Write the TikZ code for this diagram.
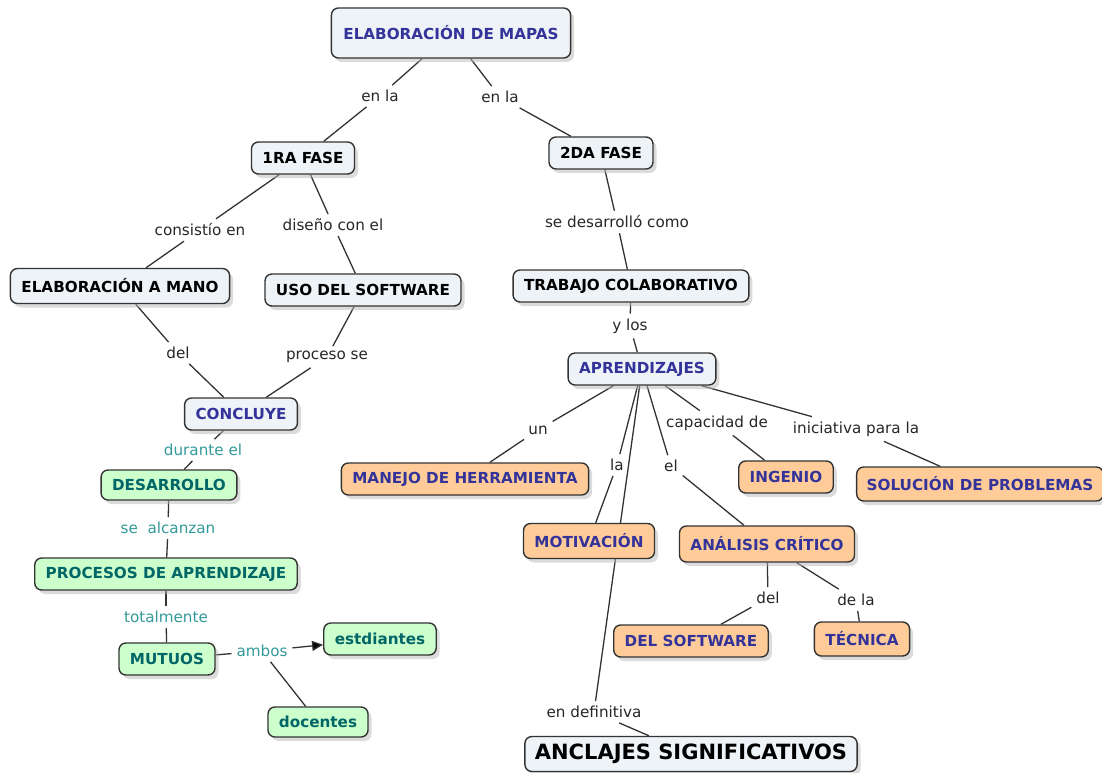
\documentclass[tikz,border=0pt]{standalone}
\usepackage{fontspec}
\setmainfont{DejaVu Sans}
\usetikzlibrary{shadows,backgrounds,arrows.meta}

\definecolor{mapblue}{HTML}{333399}
\definecolor{mapfill}{HTML}{EEF3F7}
\definecolor{mint}{HTML}{CCFFCC}
\definecolor{peach}{HTML}{FFCC99}
\definecolor{tealtxt}{HTML}{006666}
\definecolor{teallnk}{HTML}{339999}
\definecolor{edgegray}{HTML}{333333}

\tikzset{
  concept/.style={draw=edgegray, line width=1.4pt, rounded corners=7pt, fill=mapfill,
    font=\bfseries\fontsize{15.2}{17}\selectfont, inner xsep=11pt, minimum height=32pt,
    drop shadow={shadow xshift=3.5pt, shadow yshift=-4pt, fill=black!28}},
  bluecon/.style={concept, text=mapblue},
  greencon/.style={concept, fill=mint, text=tealtxt},
  orangecon/.style={concept, fill=peach, text=mapblue},
  link/.style={font=\fontsize{15.2}{17}\selectfont, text=black!85, inner sep=2pt, outer sep=3pt},
  greenlink/.style={link, text=teallnk},
  line/.style={draw=edgegray, line width=1.3pt}
}

\begin{document}
\begin{tikzpicture}[x=1pt, y=-1pt]
    \useasboundingbox (0,0) rectangle (1102,773);

    \node[bluecon, minimum height=50pt, inner xsep=12pt] (mapas) at (451,33) {ELABORACIÓN DE MAPAS};
    \node[concept] (fase1) at (303,158) {1RA FASE};
    \node[concept] (fase2) at (601,153) {2DA FASE};
    \node[concept, minimum height=35pt] (mano) at (120,286) {ELABORACIÓN A MANO};
    \node[concept] (uso) at (363,290) {USO DEL SOFTWARE};
    \node[concept] (trabajo) at (631,286) {TRABAJO COLABORATIVO};
    \node[bluecon] (aprend) at (642,369) {APRENDIZAJES};
    \node[bluecon] (concl) at (241,414) {CONCLUYE};
    \node[greencon, minimum height=30pt] (desarr) at (169,485) {DESARROLLO};
    \node[greencon] (procesos) at (166,574) {PROCESOS DE APRENDIZAJE};
    \node[greencon] (mutuos) at (167,659) {MUTUOS};
    \node[greencon] (estud) at (380,639) {estdiantes};
    \node[greencon, minimum height=30pt] (docen) at (318,722) {docentes};
    \node[orangecon] (manejo) at (465,479) {MANEJO DE HERRAMIENTA};
    \node[orangecon] (ingenio) at (786,477) {INGENIO};
    \node[orangecon, minimum height=34pt, inner xsep=10pt] (solucion) at (980,484) {SOLUCIÓN DE PROBLEMAS};
    \node[orangecon, minimum height=35pt] (motiv) at (589,541) {MOTIVACIÓN};
    \node[orangecon, minimum height=36pt] (analisis) at (767,544) {ANÁLISIS CRÍTICO};
    \node[orangecon] (delsoft) at (691,641) {DEL SOFTWARE};
    \node[orangecon, minimum height=34pt] (tecnica) at (862,639) {TÉCNICA};
    \node[concept, font=\bfseries\fontsize{21}{23}\selectfont, minimum height=35pt, inner xsep=10pt] (anclajes) at (691,754) {ANCLAJES SIGNIFICATIVOS};

    \node[link] (enlaA) at (380,96) {en la};
    \node[link] (enlaB) at (500,97) {en la};
    \node[link] (consist) at (200,230) {consistío en};
    \node[link] (diseno) at (333,225) {diseño con el};
    \node[link] (sedes) at (617,222) {se desarrolló como};
    \node[link] (delA) at (178,353) {del};
    \node[link] (proceso) at (327,357) {proceso se};
    \node[link] (ylos) at (630,326) {y los};
    \node[greenlink] (durante) at (203,450) {durante el};
    \node[greenlink] (alcanzan) at (168,528) {se~ alcanzan};
    \node[greenlink] (total) at (166,617) {totalmente};
    \node[greenlink] (ambos) at (262,651) {ambos};
    \node[link] (un) at (538,430) {un};
    \node[link] (la) at (617,465) {la};
    \node[link] (el) at (671,466) {el};
    \node[link] (capac) at (717,423) {capacidad de};
    \node[link] (inic) at (856,429) {iniciativa para la};
    \node[link] (delB) at (768,598) {del};
    \node[link] (dela) at (856,600) {de la};
    \node[link] (endef) at (594,712) {en definitiva};

    \begin{scope}[on background layer]
    \path[line]
    (mapas) edge (enlaA) (enlaA) edge (fase1)
    (mapas) edge (enlaB) (enlaB) edge (fase2)
    (fase1) edge (consist) (consist) edge (mano)
    (fase1) edge (diseno) (diseno) edge (uso)
    (mano) edge (delA) (delA) edge (concl)
    (uso) edge (proceso) (proceso) edge (concl)
    (fase2) edge (sedes) (sedes) edge (trabajo)
    (trabajo) edge (ylos) (ylos) edge (aprend)
    (concl) edge (durante) (durante) edge (desarr)
    (desarr) edge (alcanzan) (alcanzan) edge (procesos)
    (procesos) edge (total) (total) edge (mutuos)
    (mutuos) edge (ambos)
    (ambos) edge[-{Triangle[length=11pt, width=10pt]}] (estud)
    (ambos) edge (docen)
    (aprend) edge (un) (un) edge (manejo)
    (aprend) edge (la) (la) edge (motiv)
    (aprend) edge (el) (el) edge (analisis)
    (aprend) edge (capac) (capac) edge (ingenio)
    (aprend) edge (inic) (inic) edge (solucion)
    (aprend) edge (endef) (endef) edge (anclajes)
    (analisis) edge (delB) (delB) edge (delsoft)
    (analisis) edge (dela) (dela) edge (tecnica);
    \end{scope}
\end{tikzpicture}
\end{document}
